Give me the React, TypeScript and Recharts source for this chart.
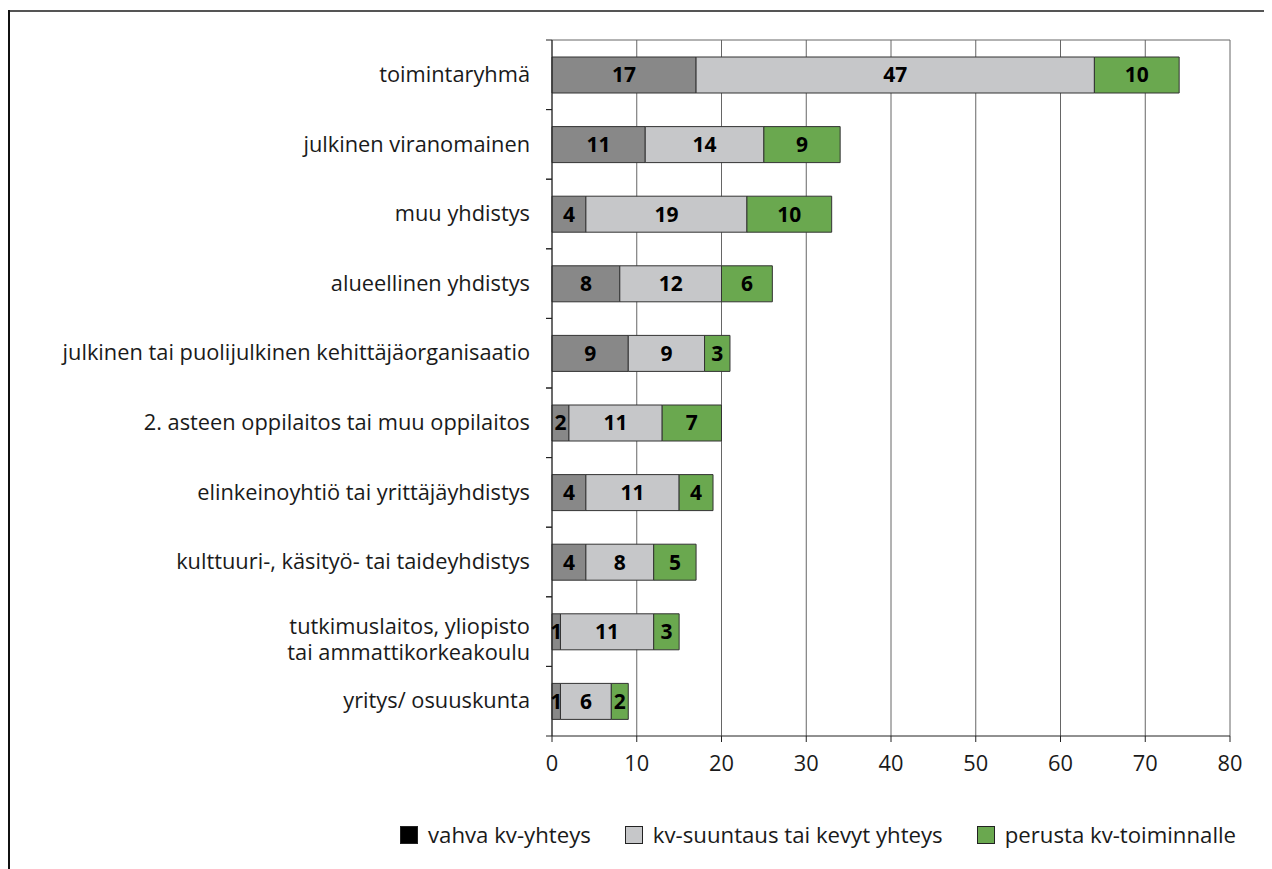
import { BarChart, Bar, XAxis, YAxis, CartesianGrid, Legend, LabelList } from "recharts";

const categories = [
  "toimintaryhmä",
  "julkinen viranomainen",
  "muu yhdistys",
  "alueellinen yhdistys",
  "julkinen tai puolijulkinen kehittäjäorganisaatio",
  "2. asteen oppilaitos tai muu oppilaitos",
  "elinkeinoyhtiö tai yrittäjäyhdistys",
  "kulttuuri-, käsityö- tai taideyhdistys",
  "tutkimuslaitos, yliopisto\ntai ammattikorkeakoulu",
  "yritys/ osuuskunta",
];

const vahva = [17, 11, 4, 8, 9, 2, 4, 4, 1, 1];
const kevyt = [47, 14, 19, 12, 9, 11, 11, 8, 11, 6];
const perusta = [10, 9, 10, 6, 3, 7, 4, 5, 3, 2];

const xTicks = [0, 10, 20, 30, 40, 50, 60, 70, 80];

const seriesNames = ["vahva kv-yhteys", "kv-suuntaus tai kevyt yhteys", "perusta kv-toiminnalle"];

const data = categories.map((name, i) => ({
  name,
  vahva: vahva[i],
  kevyt: kevyt[i],
  perusta: perusta[i],
}));

const FONT = "'Open Sans', 'Noto Sans', sans-serif";
const TEXT = "#1a1a1a";
const FS = 21.8;

// chart geometry
const W = 1264;
const H = 861;
const MARGIN = { top: 32, right: 42, left: 0, bottom: 93 };
const Y_WIDTH = 544;
const X_HEIGHT = 40;
const BAND = (H - MARGIN.top - MARGIN.bottom - X_HEIGHT) / categories.length;

function CategoryTick(props: any) {
  const { x, y, payload } = props;
  const ax = x + 8; // axis line position (tickSize + tickMargin)
  const lines = String(payload.value).split("\n");
  return (
    <g>
      <line x1={ax - 6} x2={ax} y1={y - BAND / 2} y2={y - BAND / 2} stroke="#222" />
      <line x1={ax - 6} x2={ax} y1={y + BAND / 2} y2={y + BAND / 2} stroke="#222" />
      <text x={ax - 22} y={y} textAnchor="end" fontFamily={FONT} fontSize={FS} fill={TEXT}>
        {lines.map((l, i) => (
          <tspan key={i} x={ax - 22} dy={i === 0 ? (lines.length > 1 ? "0.12em" : "0.33em") : "1.2em"}>
            {l}
          </tspan>
        ))}
      </text>
    </g>
  );
}

const swatches = ["#000000", "#c6c7c9", "#6aa84f"];

function LegendContent() {
  return (
    <div
      style={{
        display: "flex",
        alignItems: "center",
        whiteSpace: "nowrap",
        fontFamily: FONT,
        fontSize: 22.2,
        color: TEXT,
      }}
    >
      {seriesNames.map((n, i) => (
        <div key={n} style={{ display: "flex", alignItems: "center", flexShrink: 0, marginRight: 34 }}>
          <span
            style={{
              width: 18,
              height: 18,
              background: swatches[i],
              border: "1px solid #222",
              boxSizing: "border-box",
              marginRight: 10,
              flexShrink: 0,
            }}
          />
          <span>{n}</span>
        </div>
      ))}
    </div>
  );
}

const labelStyle = { fontFamily: FONT, fontSize: 21, fontWeight: 700, fill: "#000" };

export default function App() {
  return (
    <div style={{ position: "relative", width: W, height: H }}>
      <div style={{ position: "absolute", top: 2, left: 1, width: W - 1, height: 2, background: "#555" }} />
      <div style={{ position: "absolute", top: 2, left: 0, width: 2, height: H - 2, background: "#111" }} />
      <div style={{ position: "absolute", top: 0, left: 0 }}>
        <BarChart width={W} height={H} data={data} layout="vertical" margin={MARGIN} barSize={36}>
          <CartesianGrid
            stroke="#666"
            vertical
            horizontal
            horizontalCoordinatesGenerator={({ offset }: any) => [offset.top]}
            verticalCoordinatesGenerator={({ offset }: any) =>
              xTicks.map((t) => offset.left + (t / 80) * offset.width)
            }
          />
          <XAxis
            type="number"
            domain={[0, 80]}
            ticks={xTicks}
            height={X_HEIGHT}
            stroke="#222"
            tickSize={6}
            tickMargin={14}
            tick={{ fontFamily: FONT, fontSize: FS, fill: TEXT }}
          />
          <YAxis
            type="category"
            dataKey="name"
            width={Y_WIDTH}
            stroke="#222"
            tickLine={false}
            interval={0}
            tick={<CategoryTick />}
          />
          <Legend
            layout="horizontal"
            verticalAlign="middle"
            align="center"
            wrapperStyle={{ left: 392, top: 811, width: 860 }}
            content={<LegendContent />}
          />
          <Bar dataKey="vahva" stackId="a" fill="#888888" stroke="#333" strokeWidth={1} isAnimationActive={false}>
            <LabelList dataKey="vahva" position="center" style={labelStyle} />
          </Bar>
          <Bar dataKey="kevyt" stackId="a" fill="#c6c7c9" stroke="#333" strokeWidth={1} isAnimationActive={false}>
            <LabelList dataKey="kevyt" position="center" style={labelStyle} />
          </Bar>
          <Bar dataKey="perusta" stackId="a" fill="#6aa84f" stroke="#333" strokeWidth={1} isAnimationActive={false}>
            <LabelList dataKey="perusta" position="center" style={labelStyle} />
          </Bar>
        </BarChart>
      </div>
    </div>
  );
}
